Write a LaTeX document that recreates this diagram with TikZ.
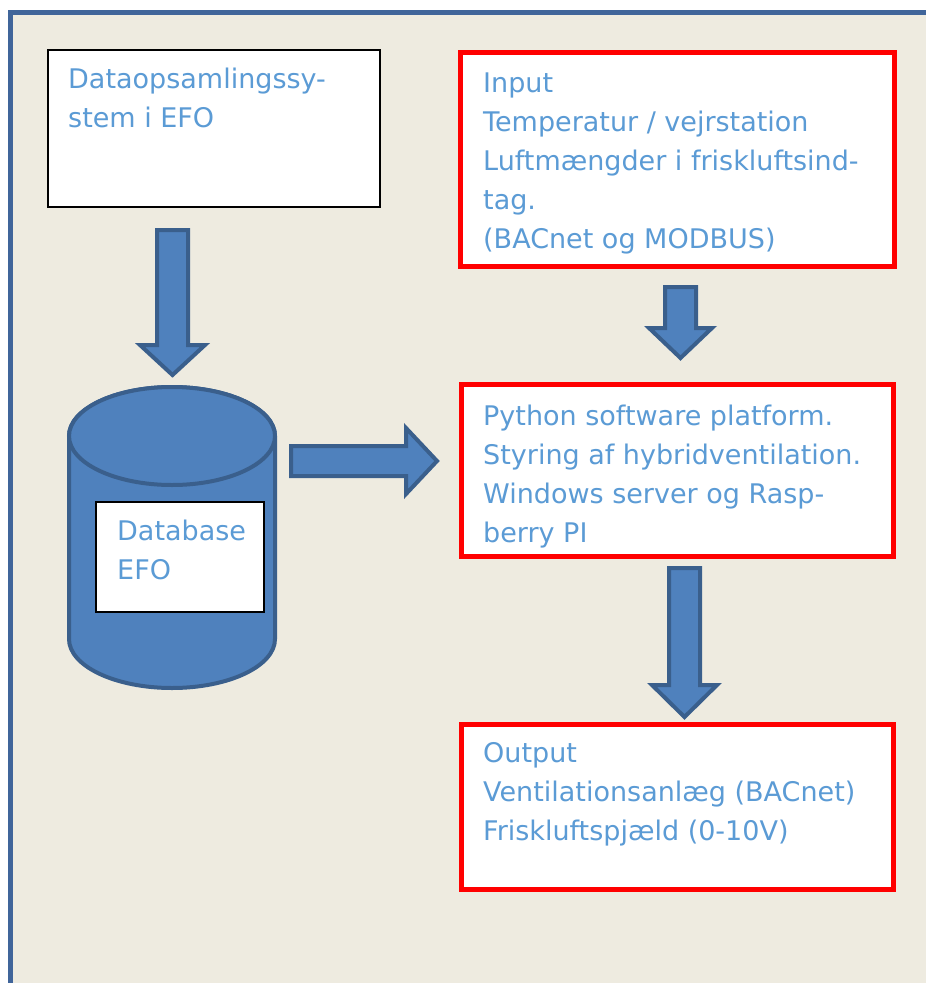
\documentclass[tikz,border=0pt]{standalone}
\usepackage{fontspec}
\setmainfont{DejaVu Sans}
\definecolor{bgbeige}{HTML}{EEEBE0}
\definecolor{framecol}{HTML}{40659A}
\definecolor{afill}{HTML}{4F81BD}
\definecolor{aline}{HTML}{3A5F8C}
\definecolor{txtcol}{HTML}{5B9BD5}
\definecolor{rbox}{HTML}{FF0000}
\newcommand\tb[1]{\begin{tabular}[t]{@{}l@{}}#1\end{tabular}}
\begin{document}
\begin{tikzpicture}[x=1pt,y=-1pt,
  lbl/.style={anchor=base west,inner sep=0pt,text=txtcol,font=\fontsize{27}{39}\selectfont},
  blackbox/.style={draw=black,line width=1.3pt,fill=white,inner sep=0pt},
  redbox/.style={draw=rbox,line width=5pt,fill=white,inner sep=0pt},
  blockarrow/.style={fill=afill,draw=aline,line width=4pt,line join=miter}]
\useasboundingbox (0,0) rectangle (926,983);
\fill[white] (0,0) rectangle (926,983);
\fill[bgbeige] (13,15) rectangle (926,983);
\fill[framecol] (8,10) rectangle (926,15);
\fill[framecol] (8,10) rectangle (13,983);

% top-left box
\node[blackbox,minimum width=332pt,minimum height=157pt] (dacq) at (214,128.5) {};
\node[lbl] (dacqtxt) at (68,88) {\tb{Dataopsamlingssy-\\stem i EFO}};

% arrow down 1
\draw[blockarrow] (157,230) -- (188,230) -- (188,345) -- (205,345) -- (172.5,375) -- (140,345) -- (157,345) -- cycle;

% cylinder
\draw[blockarrow] (69,436) -- (69,639) arc[start angle=180,end angle=0,x radius=103,y radius=49]
   -- (275,436) arc[start angle=360,end angle=180,x radius=103,y radius=49] -- cycle;
\draw[blockarrow] (172,436) ellipse[x radius=103,y radius=49];
\node[blackbox,minimum width=168pt,minimum height=110pt] (db) at (180,557) {};
\node[lbl] (dbtxt) at (117,540) {\tb{Database\\EFO}};

% arrow right
\draw[blockarrow] (291,446) -- (406,446) -- (406,428) -- (437,461) -- (406,494) -- (406,476) -- (291,476) -- cycle;

% input box
\node[redbox,minimum width=434pt,minimum height=214pt] (input) at (677,159) {};
\node[lbl] (inputtxt) at (483,92) {\tb{Input\\Temperatur / vejrstation\\Luftmængder i friskluftsind-\\tag.\\(BACnet og MODBUS)}};

% arrow down 2
\draw[blockarrow] (665,287) -- (696,287) -- (696,328) -- (712,328) -- (680.5,358) -- (649,328) -- (665,328) -- cycle;

% python box
\node[redbox,minimum width=432pt,minimum height=172pt] (python) at (677,470) {};
\node[lbl] (pythontxt) at (483,425) {\tb{Python software platform.\\Styring af hybridventilation.\\Windows server og Rasp-\\berry PI}};

% arrow down 3
\draw[blockarrow] (669,568) -- (700,568) -- (700,685) -- (717,685) -- (684.5,717) -- (652,685) -- (669,685) -- cycle;

% output box
\node[redbox,minimum width=432pt,minimum height=165pt] (output) at (677,806.5) {};
\node[lbl] (outputtxt) at (483,762) {\tb{Output\\Ventilationsanlæg (BACnet)\\Friskluftspjæld (0-10V)}};
\end{tikzpicture}
\end{document}
